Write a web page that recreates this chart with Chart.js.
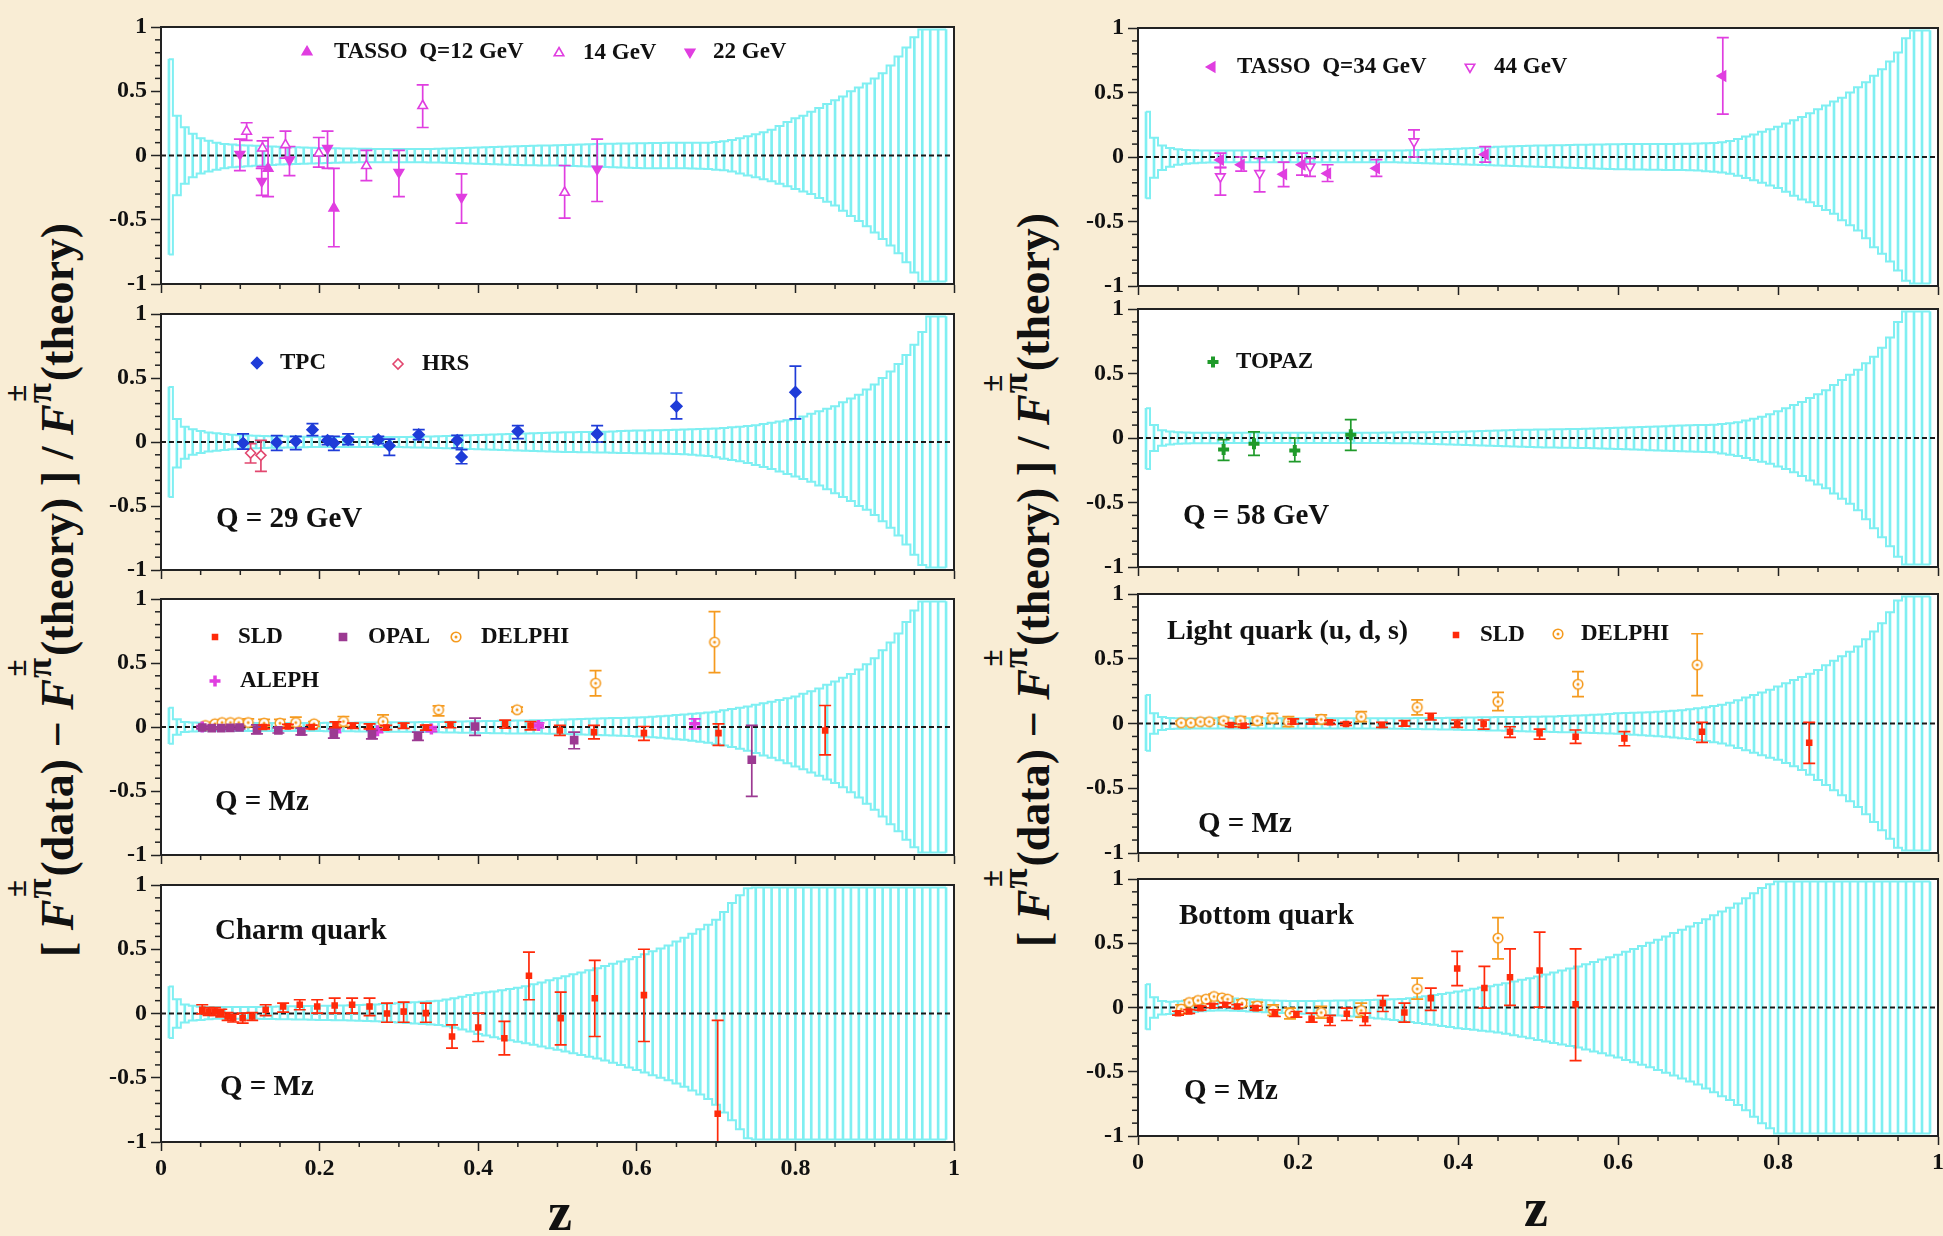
<!DOCTYPE html>
<html><head><meta charset="utf-8">
<script src="https://cdn.jsdelivr.net/npm/chart.js@4.4.0/dist/chart.umd.min.js"></script>
<style>
html,body{margin:0;padding:0;width:1943px;height:1236px;overflow:hidden;background:#f9edd5;}
canvas{position:absolute;}
.yt{position:absolute;font-family:"Liberation Serif","Times New Roman",serif;font-weight:bold;font-size:46px;white-space:nowrap;color:#111;transform:translate(-50%,-50%) rotate(-90deg);line-height:1;}
.yt i{font-style:italic;}
.sp{display:inline-flex;flex-direction:column;align-items:center;font-size:0.8em;line-height:0.68;vertical-align:1.3em;margin:0 0.05em 0 0.03em;}
.pm{font-size:0.85em;}
.zl{position:absolute;font-family:"Liberation Serif","Times New Roman",serif;font-weight:bold;font-size:54px;color:#111;transform:translate(-50%,-50%);}
</style></head><body>
<div class="yt" style="left:43px;top:590px">[ <i>F</i><span class="sp"><span class="pm">±</span><span>π</span></span>(data) − <i>F</i><span class="sp"><span class="pm">±</span><span>π</span></span>(theory) ] / <i>F</i><span class="sp"><span class="pm">±</span><span>π</span></span>(theory)</div>
<div class="yt" style="left:1019px;top:580px">[ <i>F</i><span class="sp"><span class="pm">±</span><span>π</span></span>(data) − <i>F</i><span class="sp"><span class="pm">±</span><span>π</span></span>(theory) ] / <i>F</i><span class="sp"><span class="pm">±</span><span>π</span></span>(theory)</div>
<div class="zl" style="left:560px;top:1212px">z</div>
<div class="zl" style="left:1536px;top:1208px">z</div>
<script>
// ---------- z grid of the theory-uncertainty band ----------
const zGrid = [
0.01,0.02,0.03,0.04,0.05,0.06,0.07,0.08,0.09,0.10,
0.11,0.12,0.13,0.14,0.15,0.16,0.17,0.18,0.19,0.20,
0.21,0.22,0.23,0.24,0.25,0.26,0.27,0.28,0.29,0.30,
0.31,0.32,0.33,0.34,0.35,0.36,0.37,0.38,0.39,0.40,
0.41,0.42,0.43,0.44,0.45,0.46,0.47,0.48,0.49,0.50,
0.51,0.52,0.53,0.54,0.55,0.56,0.57,0.58,0.59,0.60,
0.61,0.62,0.63,0.64,0.65,0.66,0.67,0.68,0.69,0.70,
0.71,0.72,0.73,0.74,0.75,0.76,0.77,0.78,0.79,0.80,
0.81,0.82,0.83,0.84,0.85,0.86,0.87,0.88,0.89,0.90,
0.91,0.92,0.93,0.94,0.95,0.96,0.97,0.98,0.99];

// ---------- band upper / lower edges per panel ----------
const bandA_hi = [
0.75,0.31,0.22,0.17,0.135,0.115,0.10,0.09,0.085,0.08,
0.078,0.075,0.072,0.07,0.068,0.066,0.064,0.062,0.06,0.058,
0.057,0.056,0.055,0.054,0.053,0.052,0.051,0.05,0.05,0.05,
0.05,0.05,0.05,0.05,0.052,0.054,0.056,0.058,0.06,0.062,
0.064,0.066,0.068,0.07,0.072,0.074,0.076,0.078,0.078,0.08,
0.082,0.084,0.086,0.088,0.09,0.091,0.092,0.093,0.094,0.095,
0.096,0.097,0.098,0.099,0.10,0.10,0.10,0.10,0.10,0.105,
0.11,0.12,0.135,0.15,0.165,0.18,0.20,0.23,0.26,0.29,
0.31,0.34,0.37,0.40,0.43,0.46,0.50,0.53,0.56,0.60,
0.64,0.70,0.77,0.84,0.92,0.98,0.98,0.98,0.98];
const bandA_lo = [
-0.77,-0.31,-0.22,-0.17,-0.14,-0.125,-0.11,-0.10,-0.092,-0.088,
-0.084,-0.08,-0.077,-0.074,-0.071,-0.068,-0.066,-0.064,-0.062,-0.06,
-0.058,-0.056,-0.055,-0.054,-0.053,-0.052,-0.052,-0.052,-0.052,-0.052,
-0.052,-0.052,-0.053,-0.054,-0.055,-0.056,-0.058,-0.06,-0.062,-0.064,
-0.066,-0.068,-0.07,-0.072,-0.074,-0.075,-0.076,-0.077,-0.078,-0.078,
-0.08,-0.082,-0.084,-0.086,-0.088,-0.09,-0.092,-0.094,-0.096,-0.098,
-0.10,-0.10,-0.10,-0.10,-0.10,-0.10,-0.102,-0.104,-0.106,-0.11,
-0.115,-0.125,-0.14,-0.155,-0.17,-0.185,-0.20,-0.22,-0.24,-0.26,
-0.28,-0.30,-0.33,-0.36,-0.39,-0.43,-0.47,-0.51,-0.55,-0.60,
-0.65,-0.70,-0.76,-0.83,-0.91,-0.98,-0.98,-0.98,-0.98];
const bandB_hi = [
0.35,0.15,0.09,0.07,0.06,0.055,0.052,0.05,0.05,0.05,
0.05,0.05,0.05,0.05,0.05,0.05,0.05,0.05,0.05,0.05,
0.05,0.05,0.05,0.05,0.05,0.05,0.05,0.05,0.05,0.05,
0.05,0.05,0.05,0.052,0.054,0.056,0.058,0.06,0.062,0.064,
0.067,0.07,0.073,0.076,0.079,0.082,0.084,0.086,0.088,0.089,
0.09,0.091,0.092,0.093,0.094,0.095,0.096,0.097,0.098,0.099,
0.10,0.10,0.10,0.10,0.10,0.10,0.101,0.102,0.103,0.104,
0.106,0.108,0.115,0.125,0.14,0.158,0.175,0.195,0.215,0.235,
0.26,0.285,0.31,0.34,0.37,0.40,0.43,0.46,0.50,0.54,
0.58,0.63,0.68,0.74,0.81,0.92,0.98,0.98,0.98];
const bandB_lo = [
-0.32,-0.16,-0.10,-0.075,-0.06,-0.052,-0.048,-0.045,-0.043,-0.042,
-0.04,-0.04,-0.04,-0.04,-0.04,-0.04,-0.04,-0.04,-0.04,-0.04,
-0.04,-0.04,-0.04,-0.04,-0.04,-0.04,-0.04,-0.04,-0.04,-0.04,
-0.04,-0.04,-0.042,-0.044,-0.046,-0.048,-0.05,-0.052,-0.054,-0.056,
-0.058,-0.06,-0.062,-0.064,-0.066,-0.068,-0.07,-0.072,-0.074,-0.076,
-0.078,-0.08,-0.082,-0.084,-0.086,-0.088,-0.09,-0.092,-0.093,-0.094,
-0.095,-0.096,-0.097,-0.098,-0.099,-0.10,-0.10,-0.10,-0.102,-0.105,
-0.11,-0.114,-0.12,-0.13,-0.145,-0.162,-0.18,-0.20,-0.22,-0.24,
-0.27,-0.30,-0.33,-0.35,-0.38,-0.41,-0.44,-0.49,-0.53,-0.57,
-0.63,-0.70,-0.75,-0.81,-0.88,-0.96,-0.98,-0.98,-0.98];
const bandC_hi = [
0.43,0.18,0.12,0.10,0.085,0.075,0.068,0.062,0.056,0.052,
0.05,0.048,0.046,0.045,0.044,0.043,0.042,0.041,0.04,0.04,
0.04,0.04,0.04,0.04,0.04,0.04,0.04,0.04,0.04,0.04,
0.04,0.041,0.042,0.043,0.045,0.047,0.049,0.051,0.053,0.055,
0.057,0.059,0.061,0.063,0.065,0.067,0.069,0.071,0.073,0.075,
0.076,0.077,0.078,0.079,0.08,0.081,0.083,0.085,0.087,0.089,
0.09,0.091,0.092,0.093,0.095,0.097,0.099,0.101,0.103,0.105,
0.11,0.115,0.12,0.125,0.13,0.14,0.15,0.16,0.17,0.18,
0.20,0.22,0.24,0.26,0.28,0.31,0.34,0.37,0.41,0.45,
0.50,0.55,0.61,0.68,0.76,0.86,0.98,0.98,0.98];
const bandC_lo = [
-0.43,-0.20,-0.13,-0.10,-0.085,-0.075,-0.068,-0.062,-0.056,-0.052,
-0.05,-0.048,-0.046,-0.045,-0.044,-0.043,-0.042,-0.041,-0.04,-0.04,
-0.04,-0.04,-0.04,-0.04,-0.04,-0.04,-0.04,-0.04,-0.04,-0.04,
-0.041,-0.042,-0.043,-0.045,-0.047,-0.049,-0.051,-0.053,-0.055,-0.057,
-0.059,-0.061,-0.063,-0.065,-0.067,-0.069,-0.071,-0.073,-0.075,-0.077,
-0.078,-0.079,-0.08,-0.081,-0.082,-0.083,-0.084,-0.085,-0.086,-0.087,
-0.088,-0.089,-0.09,-0.092,-0.094,-0.096,-0.10,-0.105,-0.11,-0.12,
-0.13,-0.14,-0.15,-0.165,-0.18,-0.195,-0.21,-0.23,-0.25,-0.27,
-0.29,-0.31,-0.34,-0.37,-0.40,-0.43,-0.46,-0.50,-0.53,-0.57,
-0.62,-0.67,-0.73,-0.80,-0.88,-0.96,-0.98,-0.98,-0.98];
const bandD_hi = [
0.23,0.10,0.06,0.05,0.045,0.042,0.04,0.04,0.04,0.04,
0.04,0.04,0.04,0.04,0.04,0.04,0.04,0.04,0.04,0.04,
0.04,0.04,0.04,0.04,0.04,0.04,0.04,0.04,0.04,0.04,
0.042,0.043,0.044,0.044,0.045,0.045,0.046,0.046,0.047,0.048,
0.05,0.052,0.054,0.056,0.058,0.06,0.062,0.063,0.064,0.065,
0.066,0.067,0.068,0.069,0.07,0.071,0.073,0.075,0.077,0.08,
0.082,0.084,0.086,0.088,0.09,0.092,0.094,0.096,0.098,0.10,
0.10,0.103,0.108,0.115,0.123,0.135,0.15,0.165,0.185,0.207,
0.23,0.255,0.28,0.31,0.34,0.37,0.41,0.45,0.49,0.53,
0.58,0.63,0.70,0.78,0.90,0.98,0.98,0.98,0.98];
const bandD_lo = [
-0.24,-0.10,-0.06,-0.05,-0.045,-0.042,-0.04,-0.04,-0.04,-0.04,
-0.038,-0.038,-0.038,-0.038,-0.038,-0.038,-0.038,-0.038,-0.038,-0.038,
-0.038,-0.038,-0.038,-0.038,-0.038,-0.038,-0.038,-0.038,-0.038,-0.038,
-0.039,-0.04,-0.04,-0.041,-0.042,-0.044,-0.046,-0.048,-0.05,-0.052,
-0.054,-0.056,-0.058,-0.06,-0.062,-0.064,-0.066,-0.068,-0.07,-0.072,
-0.073,-0.074,-0.075,-0.076,-0.077,-0.078,-0.08,-0.082,-0.084,-0.086,
-0.088,-0.09,-0.092,-0.094,-0.096,-0.098,-0.10,-0.102,-0.104,-0.106,
-0.108,-0.11,-0.12,-0.13,-0.14,-0.155,-0.17,-0.185,-0.20,-0.22,
-0.24,-0.265,-0.295,-0.33,-0.36,-0.39,-0.43,-0.47,-0.51,-0.56,
-0.63,-0.70,-0.77,-0.84,-0.92,-0.98,-0.98,-0.98,-0.98];
const bandE_hi = [
0.15,0.06,0.04,0.035,0.033,0.032,0.032,0.032,0.032,0.032,
0.032,0.032,0.032,0.032,0.032,0.032,0.032,0.032,0.032,0.032,
0.033,0.033,0.034,0.034,0.035,0.035,0.036,0.036,0.037,0.037,
0.038,0.038,0.039,0.039,0.04,0.041,0.042,0.043,0.044,0.045,
0.046,0.047,0.048,0.049,0.05,0.051,0.052,0.053,0.055,0.056,
0.058,0.06,0.062,0.064,0.066,0.068,0.07,0.071,0.072,0.074,
0.077,0.08,0.084,0.088,0.093,0.098,0.103,0.108,0.114,0.12,
0.13,0.14,0.15,0.16,0.173,0.185,0.197,0.21,0.224,0.238,
0.26,0.28,0.30,0.33,0.355,0.385,0.415,0.45,0.49,0.537,
0.60,0.66,0.73,0.82,0.91,0.98,0.98,0.98,0.98];
const bandE_lo = [
-0.13,-0.06,-0.04,-0.035,-0.033,-0.032,-0.032,-0.032,-0.032,-0.032,
-0.032,-0.032,-0.032,-0.032,-0.032,-0.032,-0.032,-0.032,-0.032,-0.032,
-0.033,-0.033,-0.034,-0.034,-0.035,-0.035,-0.036,-0.036,-0.037,-0.037,
-0.038,-0.038,-0.039,-0.04,-0.041,-0.042,-0.043,-0.044,-0.045,-0.046,
-0.047,-0.048,-0.049,-0.05,-0.05,-0.05,-0.051,-0.051,-0.052,-0.053,
-0.055,-0.057,-0.059,-0.061,-0.063,-0.065,-0.067,-0.069,-0.071,-0.074,
-0.077,-0.08,-0.084,-0.089,-0.095,-0.10,-0.107,-0.115,-0.124,-0.134,
-0.145,-0.157,-0.17,-0.186,-0.204,-0.222,-0.24,-0.26,-0.284,-0.308,
-0.33,-0.355,-0.38,-0.41,-0.438,-0.47,-0.51,-0.55,-0.60,-0.646,
-0.70,-0.76,-0.815,-0.88,-0.94,-0.98,-0.98,-0.98,-0.98];
const bandF_hi = [
0.22,0.08,0.05,0.042,0.04,0.04,0.04,0.04,0.04,0.04,
0.04,0.04,0.04,0.04,0.04,0.04,0.04,0.04,0.04,0.04,
0.04,0.04,0.04,0.04,0.04,0.04,0.04,0.04,0.04,0.04,
0.04,0.04,0.041,0.041,0.042,0.042,0.043,0.043,0.044,0.045,
0.046,0.047,0.048,0.049,0.05,0.05,0.051,0.051,0.052,0.053,
0.054,0.055,0.057,0.059,0.061,0.064,0.067,0.07,0.074,0.079,
0.081,0.083,0.085,0.087,0.09,0.094,0.098,0.103,0.11,0.117,
0.125,0.135,0.145,0.16,0.18,0.20,0.22,0.24,0.26,0.285,
0.31,0.335,0.36,0.385,0.414,0.45,0.485,0.52,0.555,0.595,
0.65,0.71,0.775,0.86,0.95,0.98,0.98,0.98,0.98];
const bandF_lo = [
-0.21,-0.08,-0.05,-0.042,-0.04,-0.04,-0.038,-0.038,-0.038,-0.038,
-0.038,-0.038,-0.038,-0.038,-0.038,-0.038,-0.038,-0.038,-0.038,-0.038,
-0.038,-0.038,-0.038,-0.038,-0.038,-0.038,-0.038,-0.038,-0.038,-0.038,
-0.039,-0.04,-0.041,-0.042,-0.043,-0.044,-0.045,-0.046,-0.047,-0.048,
-0.05,-0.051,-0.052,-0.054,-0.055,-0.056,-0.058,-0.06,-0.061,-0.063,
-0.064,-0.065,-0.067,-0.068,-0.07,-0.072,-0.074,-0.076,-0.078,-0.08,
-0.083,-0.086,-0.09,-0.094,-0.098,-0.103,-0.108,-0.114,-0.12,-0.128,
-0.136,-0.145,-0.155,-0.17,-0.19,-0.207,-0.225,-0.245,-0.265,-0.28,
-0.305,-0.33,-0.36,-0.395,-0.437,-0.475,-0.515,-0.555,-0.60,-0.644,
-0.70,-0.76,-0.825,-0.89,-0.96,-0.98,-0.98,-0.98,-0.98];
const bandG_hi = [
0.21,0.11,0.07,0.06,0.052,0.05,0.05,0.05,0.05,0.05,
0.05,0.051,0.052,0.053,0.055,0.056,0.057,0.058,0.059,0.06,
0.061,0.062,0.063,0.064,0.066,0.068,0.07,0.073,0.076,0.08,
0.084,0.088,0.092,0.096,0.10,0.108,0.118,0.13,0.143,0.158,
0.165,0.172,0.18,0.19,0.20,0.213,0.227,0.242,0.258,0.275,
0.29,0.305,0.32,0.336,0.353,0.37,0.387,0.404,0.422,0.44,
0.462,0.484,0.506,0.53,0.56,0.59,0.62,0.655,0.69,0.73,
0.79,0.86,0.92,0.975,0.98,0.98,0.98,0.98,0.98,0.98,
0.98,0.98,0.98,0.98,0.98,0.98,0.98,0.98,0.98,0.98,
0.98,0.98,0.98,0.98,0.98,0.98,0.98,0.98,0.98];
const bandG_lo = [
-0.19,-0.11,-0.07,-0.055,-0.05,-0.045,-0.04,-0.04,-0.04,-0.04,
-0.04,-0.041,-0.042,-0.043,-0.044,-0.045,-0.046,-0.047,-0.048,-0.05,
-0.051,-0.052,-0.053,-0.054,-0.056,-0.058,-0.06,-0.063,-0.066,-0.07,
-0.074,-0.078,-0.082,-0.086,-0.09,-0.10,-0.11,-0.125,-0.14,-0.16,
-0.172,-0.184,-0.196,-0.208,-0.22,-0.232,-0.244,-0.257,-0.27,-0.283,
-0.296,-0.31,-0.323,-0.336,-0.35,-0.366,-0.383,-0.40,-0.42,-0.44,
-0.46,-0.48,-0.50,-0.52,-0.545,-0.57,-0.60,-0.63,-0.665,-0.71,
-0.77,-0.83,-0.90,-0.97,-0.98,-0.98,-0.98,-0.98,-0.98,-0.98,
-0.98,-0.98,-0.98,-0.98,-0.98,-0.98,-0.98,-0.98,-0.98,-0.98,
-0.98,-0.98,-0.98,-0.98,-0.98,-0.98,-0.98,-0.98,-0.98];
const bandH_hi = [
0.18,0.08,0.05,0.045,0.048,0.053,0.06,0.066,0.07,0.073,
0.072,0.07,0.067,0.064,0.06,0.057,0.054,0.052,0.05,0.05,
0.05,0.051,0.052,0.053,0.054,0.055,0.056,0.057,0.058,0.06,
0.062,0.064,0.067,0.072,0.08,0.088,0.097,0.105,0.115,0.125,
0.135,0.145,0.155,0.166,0.177,0.189,0.202,0.215,0.228,0.242,
0.257,0.272,0.287,0.303,0.32,0.337,0.355,0.373,0.391,0.41,
0.433,0.456,0.479,0.503,0.527,0.553,0.579,0.605,0.631,0.657,
0.687,0.717,0.747,0.777,0.81,0.85,0.89,0.93,0.96,0.98,
0.98,0.98,0.98,0.98,0.98,0.98,0.98,0.98,0.98,0.98,
0.98,0.98,0.98,0.98,0.98,0.98,0.98,0.98,0.98];
const bandH_lo = [
-0.17,-0.08,-0.055,-0.05,-0.045,-0.04,-0.035,-0.03,-0.026,-0.023,
-0.024,-0.026,-0.028,-0.031,-0.034,-0.037,-0.04,-0.042,-0.044,-0.046,
-0.049,-0.052,-0.055,-0.058,-0.062,-0.066,-0.07,-0.075,-0.08,-0.086,
-0.092,-0.098,-0.105,-0.112,-0.12,-0.128,-0.135,-0.143,-0.152,-0.161,
-0.167,-0.173,-0.18,-0.187,-0.195,-0.205,-0.216,-0.227,-0.239,-0.252,
-0.264,-0.276,-0.288,-0.30,-0.312,-0.327,-0.342,-0.357,-0.373,-0.39,
-0.408,-0.426,-0.445,-0.465,-0.486,-0.508,-0.53,-0.553,-0.576,-0.60,
-0.63,-0.66,-0.69,-0.72,-0.758,-0.80,-0.85,-0.90,-0.94,-0.98,
-0.98,-0.98,-0.98,-0.98,-0.98,-0.98,-0.98,-0.98,-0.98,-0.98,
-0.98,-0.98,-0.98,-0.98,-0.98,-0.98,-0.98,-0.98,-0.98];

// ---------- data points: [z, value, errLow, errHigh] ----------
const tasso12 = [[0.135,-0.10,-0.32,0.14],[0.218,-0.41,-0.71,-0.10]];
const tasso14 = [[0.108,0.187,0.117,0.255],[0.128,0.057,-0.086,0.114],[0.157,0.083,-0.02,0.19],[0.199,0.018,-0.09,0.14],[0.259,-0.08,-0.195,0.04],[0.33,0.387,0.218,0.55],[0.509,-0.288,-0.488,-0.078]];
const tasso22 = [[0.0995,0.01,-0.117,0.127],[0.127,-0.20,-0.31,-0.10],[0.162,-0.034,-0.156,0.07],[0.21,0.057,-0.10,0.19],[0.30,-0.13,-0.32,0.04],[0.379,-0.325,-0.527,-0.143],[0.55,-0.106,-0.358,0.127]];
const tasso34 = [[0.103,-0.023,-0.08,0.03],[0.129,-0.06,-0.11,0.0],[0.182,-0.134,-0.23,-0.04],[0.205,-0.06,-0.14,0.03],[0.237,-0.127,-0.19,-0.06],[0.298,-0.088,-0.15,-0.02],[0.434,0.02,-0.04,0.08],[0.731,0.628,0.333,0.925]];
const tasso44 = [[0.103,-0.152,-0.295,-0.083],[0.152,-0.127,-0.27,-0.01],[0.215,-0.075,-0.15,-0.01],[0.345,0.119,0.0,0.21]];
const tpc = [[0.1035,-0.008,-0.055,0.063],[0.146,-0.003,-0.065,0.05],[0.17,0.005,-0.06,0.044],[0.191,0.096,0.05,0.143],[0.21,0.013,-0.02,0.044],[0.218,-0.008,-0.065,0.044],[0.236,0.018,-0.02,0.063],[0.274,0.018,-0.013,0.044],[0.288,-0.029,-0.104,0.023],[0.325,0.057,0.018,0.096],[0.3735,0.013,-0.047,0.052],[0.379,-0.117,-0.17,-0.06],[0.45,0.083,0.026,0.128],[0.55,0.063,0.0,0.128],[0.65,0.279,0.18,0.383],[0.80,0.389,0.18,0.592]];
const hrs = [[0.113,-0.086,-0.164,-0.013],[0.126,-0.104,-0.23,0.013]];
const topaz = [[0.107,-0.09,-0.173,-0.013],[0.145,-0.044,-0.134,0.047],[0.196,-0.096,-0.183,0.0],[0.266,0.026,-0.096,0.142]];
const sldMz = [[0.13,0.0,-0.015,0.015],[0.16,0.005,-0.01,0.02],[0.19,0.0,-0.015,0.015],[0.22,0.02,-0.005,0.04],[0.242,0.01,-0.01,0.03],[0.263,0.005,-0.015,0.025],[0.284,-0.005,-0.02,0.012],[0.306,0.01,-0.01,0.03],[0.334,-0.005,-0.025,0.015],[0.365,0.017,-0.006,0.038],[0.434,0.025,-0.009,0.053],[0.466,0.012,-0.022,0.043],[0.503,-0.027,-0.066,0.012],[0.546,-0.04,-0.092,0.012],[0.609,-0.048,-0.105,0.004],[0.703,-0.048,-0.144,0.025],[0.8375,-0.027,-0.217,0.168]];
const opalMz = [[0.052,-0.004,-0.014,0.006],[0.064,-0.009,-0.019,0.001],[0.076,-0.009,-0.019,0.001],[0.0875,-0.007,-0.017,0.003],[0.099,-0.004,-0.014,0.006],[0.121,-0.022,-0.053,0.017],[0.148,-0.027,-0.047,-0.007],[0.177,-0.035,-0.061,-0.009],[0.218,-0.053,-0.087,-0.014],[0.266,-0.061,-0.092,-0.027],[0.324,-0.074,-0.105,-0.04],[0.396,0.004,-0.066,0.069],[0.521,-0.103,-0.17,-0.04],[0.745,-0.256,-0.542,0.012]];
const delphiMz = [[0.056,0.012,0.0,0.024],[0.068,0.025,0.013,0.037],[0.077,0.035,0.023,0.047],[0.0875,0.035,0.023,0.047],[0.098,0.035,0.023,0.047],[0.11,0.035,0.004,0.064],[0.13,0.03,0.004,0.06],[0.15,0.03,0.004,0.06],[0.17,0.035,0.004,0.077],[0.193,0.025,0.004,0.043],[0.23,0.043,0.004,0.082],[0.28,0.043,0.004,0.095],[0.35,0.134,0.087,0.165],[0.449,0.135,0.12,0.155],[0.548,0.342,0.243,0.441],[0.698,0.663,0.425,0.902]];
const alephMz = [[0.052,0.0,-0.01,0.01],[0.22,-0.03,-0.045,-0.015],[0.273,-0.03,-0.045,-0.015],[0.341,-0.016,-0.036,0.004],[0.476,0.012,-0.008,0.032],[0.673,0.025,-0.014,0.064]];
const sldLight = [[0.116,-0.012,-0.025,0.0],[0.132,-0.017,-0.03,-0.004],[0.194,0.014,-0.004,0.035],[0.217,0.014,-0.004,0.03],[0.24,0.009,-0.006,0.024],[0.26,-0.004,-0.015,0.008],[0.305,-0.012,-0.03,0.009],[0.333,0.001,-0.02,0.022],[0.366,0.053,0.027,0.079],[0.399,-0.004,-0.03,0.027],[0.432,-0.004,-0.043,0.027],[0.465,-0.063,-0.107,-0.025],[0.502,-0.076,-0.12,-0.043],[0.547,-0.102,-0.154,-0.05],[0.608,-0.115,-0.172,-0.063],[0.705,-0.063,-0.146,0.009],[0.839,-0.148,-0.308,0.009]];
const delphiLight = [[0.054,0.006,-0.006,0.018],[0.066,0.006,-0.006,0.018],[0.078,0.014,0.002,0.026],[0.089,0.014,0.002,0.026],[0.107,0.022,-0.004,0.048],[0.128,0.022,-0.024,0.053],[0.149,0.022,-0.01,0.05],[0.168,0.04,0.006,0.079],[0.188,0.014,-0.024,0.053],[0.229,0.032,-0.004,0.066],[0.279,0.053,0.014,0.092],[0.349,0.125,0.066,0.182],[0.45,0.169,0.1,0.241],[0.55,0.303,0.207,0.401],[0.699,0.453,0.215,0.693]];
const sldCharm = [[0.052,0.029,-0.003,0.068],[0.06,0.016,-0.014,0.046],[0.068,0.016,-0.014,0.046],[0.076,0.003,-0.027,0.033],[0.084,-0.023,-0.053,0.007],[0.091,-0.036,-0.066,-0.006],[0.103,-0.036,-0.075,0.003],[0.115,-0.023,-0.053,0.007],[0.132,0.029,-0.016,0.068],[0.154,0.055,0.01,0.081],[0.175,0.068,0.029,0.107],[0.197,0.055,0.003,0.107],[0.219,0.062,0.003,0.119],[0.241,0.068,0.003,0.119],[0.263,0.055,-0.016,0.119],[0.285,0.0,-0.068,0.081],[0.306,0.016,-0.068,0.088],[0.334,0.003,-0.068,0.081],[0.367,-0.179,-0.27,-0.088],[0.40,-0.109,-0.218,0.003],[0.433,-0.192,-0.322,-0.062],[0.464,0.294,0.107,0.478],[0.504,-0.036,-0.244,0.166],[0.547,0.119,-0.179,0.413],[0.609,0.143,-0.218,0.50],[0.702,-0.78,-1.05,-0.053]];
const sldBottom = [[0.05,-0.044,-0.059,-0.029],[0.064,-0.031,-0.046,-0.016],[0.078,-0.005,-0.02,0.01],[0.093,0.013,-0.002,0.028],[0.109,0.021,0.006,0.036],[0.124,0.008,-0.007,0.023],[0.147,-0.005,-0.02,0.01],[0.171,-0.049,-0.07,-0.018],[0.198,-0.057,-0.075,-0.031],[0.217,-0.088,-0.114,-0.044],[0.24,-0.096,-0.14,-0.062],[0.261,-0.049,-0.101,-0.005],[0.284,-0.091,-0.14,-0.044],[0.306,0.034,-0.031,0.093],[0.333,-0.039,-0.114,0.034],[0.366,0.073,-0.023,0.151],[0.399,0.304,0.171,0.436],[0.433,0.151,-0.005,0.32],[0.465,0.236,0.016,0.457],[0.502,0.288,0.003,0.587],[0.547,0.026,-0.413,0.457]];
const delphiBottom = [[0.054,-0.013,-0.049,0.021],[0.064,0.039,0.02,0.058],[0.075,0.055,0.036,0.074],[0.085,0.065,0.046,0.084],[0.095,0.086,0.067,0.105],[0.105,0.075,0.056,0.094],[0.112,0.065,0.046,0.084],[0.13,0.034,0.008,0.06],[0.149,0.013,-0.018,0.042],[0.169,-0.018,-0.062,0.021],[0.19,-0.044,-0.088,-0.005],[0.229,-0.039,-0.083,0.008],[0.279,-0.023,-0.075,0.034],[0.349,0.145,0.065,0.228],[0.45,0.54,0.379,0.70]];

// ---------- styles ----------
const FONT = '"Liberation Serif", "Times New Roman", serif';
const MAG='#e03ee0', BLUE='#1f3cd8', CRIMSON='#e2476f', GREEN='#1f9a2a', RED='#ff2a0a', PURPLE='#9c3a92', ORANGE='#f59a1e', CYAN='#7feff2';
function mkDelphi(){const c=document.createElement('canvas');c.width=14;c.height=14;const g=c.getContext('2d');g.fillStyle='#fff';g.strokeStyle=ORANGE;g.lineWidth=1.6;g.beginPath();g.arc(7,7,4.8,0,Math.PI*2);g.fill();g.stroke();g.fillStyle=ORANGE;g.beginPath();g.arc(7,7,1.5,0,Math.PI*2);g.fill();return c;}
const delphiImg = mkDelphi();
const STY = {
  tasso12:{color:MAG,style:'triangle',rot:0,fill:true,r:5.5,label:'TASSO Q=12 GeV'},
  tasso14:{color:MAG,style:'triangle',rot:0,fill:false,r:5.5,label:'14 GeV'},
  tasso22:{color:MAG,style:'triangle',rot:180,fill:true,r:5.5,label:'22 GeV'},
  tasso34:{color:MAG,style:'triangle',rot:-90,fill:true,r:5.5,label:'TASSO Q=34 GeV'},
  tasso44:{color:MAG,style:'triangle',rot:180,fill:false,r:5.5,label:'44 GeV'},
  tpc:{color:BLUE,style:'rectRot',fill:true,r:5.5,label:'TPC'},
  hrs:{color:CRIMSON,style:'rectRot',fill:false,r:5,label:'HRS'},
  topaz:{color:GREEN,style:'cross',fill:true,r:5.5,bw:4,label:'TOPAZ'},
  sld:{color:RED,style:'rect',fill:true,r:3.5,label:'SLD'},
  opal:{color:PURPLE,style:'rect',fill:true,r:5,label:'OPAL'},
  delphi:{color:ORANGE,style:delphiImg,fill:false,r:5,label:'DELPHI'},
  aleph:{color:MAG,style:'cross',fill:true,r:5.5,bw:3.5,label:'ALEPH'}
};

const PANELS = [
 {left:161,top:27,w:793,h:257,bottom:false,hi:bandA_hi,lo:bandA_lo,
  series:[['tasso12',tasso12],['tasso14',tasso14],['tasso22',tasso22]],
  legend:[['tasso12',146,25,173,'TASSO  Q=12 GeV'],['tasso14',398,26,422,'14 GeV'],['tasso22',529,25,552,'22 GeV']],notes:[]},
 {left:1138,top:28,w:800,h:258,bottom:false,hi:bandB_hi,lo:bandB_lo,
  series:[['tasso34',tasso34],['tasso44',tasso44]],
  legend:[['tasso34',74,39,99,'TASSO  Q=34 GeV'],['tasso44',332,39,356,'44 GeV']],notes:[]},
 {left:161,top:314,w:793,h:256,bottom:false,hi:bandC_hi,lo:bandC_lo,
  series:[['tpc',tpc],['hrs',hrs]],
  legend:[['tpc',96,49,119,'TPC'],['hrs',237,50,261,'HRS']],notes:[['Q = 29 GeV',55,206,29]]},
 {left:1138,top:309,w:800,h:258,bottom:false,hi:bandD_hi,lo:bandD_lo,
  series:[['topaz',topaz]],
  legend:[['topaz',75,53,98,'TOPAZ']],notes:[['Q = 58 GeV',45,208,29]]},
 {left:161,top:599,w:793,h:256,bottom:false,hi:bandE_hi,lo:bandE_lo,
  series:[['sld',sldMz],['opal',opalMz],['aleph',alephMz],['delphi',delphiMz]],
  legend:[['sld',54,38,77,'SLD'],['opal',182,38,207,'OPAL'],['delphi',295,38,320,'DELPHI'],['aleph',54,82,79,'ALEPH']],notes:[['Q = Mz',54,204,29]]},
 {left:1138,top:594,w:800,h:259,bottom:false,hi:bandF_hi,lo:bandF_lo,
  series:[['sld',sldLight],['delphi',delphiLight]],
  legend:[['sld',318,41,342,'SLD'],['delphi',420,40,443,'DELPHI']],notes:[['Light quark (u, d, s)',29,38,28],['Q = Mz',60,231,29]]},
 {left:161,top:885,w:793,h:257,bottom:true,hi:bandG_hi,lo:bandG_lo,
  series:[['sld',sldCharm]],legend:[],notes:[['Charm quark',54,47,29],['Q = Mz',59,203,29]]},
 {left:1138,top:879,w:800,h:257,bottom:true,hi:bandH_hi,lo:bandH_lo,
  series:[['sld',sldBottom],['delphi',delphiBottom]],legend:[],notes:[['Bottom quark',41,38,29],['Q = Mz',46,213,29]]}
];

const YW=80, PT=18, PR=14;

function drawMarker(ctx, st, x, y){
  ctx.save();
  ctx.fillStyle = st.fill ? st.color : '#ffffff';
  ctx.strokeStyle = st.color;
  ctx.lineWidth = st.bw || 1.6;
  Chart.helpers.drawPoint(ctx, {pointStyle:st.style, rotation:st.rot||0, radius:st.r, borderWidth:st.bw||1.6}, x, y);
  ctx.restore();
}

const errorBars = {
  id:'errorBars',
  beforeDatasetDraw(chart, args){
    const ds = chart.data.datasets[args.index];
    if(!ds.errColor) return;
    const {ctx, chartArea:a} = chart, xs = chart.scales.x, ys = chart.scales.y;
    ctx.save();
    ctx.beginPath(); ctx.rect(a.left, a.top, a.right-a.left, a.bottom-a.top); ctx.clip();
    ctx.strokeStyle = ds.errColor; ctx.lineWidth = 1.7;
    const cap = 6;
    ds.data.forEach(p=>{
      const x = xs.getPixelForValue(p.x), y1 = ys.getPixelForValue(p.lo), y2 = ys.getPixelForValue(p.hi);
      ctx.beginPath();
      ctx.moveTo(x,y1); ctx.lineTo(x,y2);
      ctx.moveTo(x-cap,y1); ctx.lineTo(x+cap,y1);
      ctx.moveTo(x-cap,y2); ctx.lineTo(x+cap,y2);
      ctx.stroke();
    });
    ctx.restore();
  }
};

const frame = {
  id:'frame',
  beforeDraw(chart){
    const {ctx, chartArea:a} = chart;
    ctx.save(); ctx.fillStyle='#ffffff'; ctx.fillRect(a.left,a.top,a.right-a.left,a.bottom-a.top); ctx.restore();
  },
  afterDraw(chart){
    const {ctx, chartArea:a} = chart, xs = chart.scales.x, ys = chart.scales.y;
    const P = chart.options.plugins.frame;
    ctx.save();
    ctx.strokeStyle='#222'; ctx.lineWidth=1.5;
    for(let k=-10;k<=10;k++){ if(k%5===0) continue; const y=ys.getPixelForValue(k/10); ctx.beginPath(); ctx.moveTo(a.left-6,y); ctx.lineTo(a.left,y); ctx.stroke(); }
    for(let k=1;k<20;k++){ if(k%4===0) continue; const x=xs.getPixelForValue(k/20); ctx.beginPath(); ctx.moveTo(x,a.bottom); ctx.lineTo(x,a.bottom+5); ctx.stroke(); }
    ctx.lineWidth=2;
    ctx.strokeRect(a.left,a.top,a.right-a.left,a.bottom-a.top);
    ctx.fillStyle='#111'; ctx.textBaseline='middle'; ctx.textAlign='left';
    (P.legend||[]).forEach(([key,mx,my,tx,text])=>{
      drawMarker(ctx, STY[key], a.left+mx, a.top+my);
      ctx.fillStyle='#111';
      ctx.font='bold 23px '+FONT;
      ctx.fillText(text, a.left+tx, a.top+my);
    });
    (P.notes||[]).forEach(([text,nx,ny,size])=>{
      ctx.fillStyle='#111';
      ctx.font='bold '+size+'px '+FONT;
      ctx.fillText(text, a.left+nx, a.top+ny);
    });
    ctx.restore();
  }
};

function fmt(v){ const r=Math.round(v*10)/10; return String(r); }

PANELS.forEach((P)=>{
  const XH = P.bottom ? 64 : 14;
  const cv = document.createElement('canvas');
  const W = YW + P.w + PR, H = PT + P.h + XH;
  cv.width=W; cv.height=H;
  cv.style.left=(P.left-YW)+'px'; cv.style.top=(P.top-PT)+'px';
  cv.style.width=W+'px'; cv.style.height=H+'px';
  document.body.appendChild(cv);

  const datasets = [];
  P.series.forEach(([key,arr])=>{
    const st = STY[key];
    datasets.push({type:'line', label:st.label, data:arr.map(d=>({x:d[0],y:d[1],lo:d[2],hi:d[3]})),
      showLine:false, pointStyle:st.style, pointRotation:st.rot||0, pointRadius:st.r, pointHoverRadius:st.r,
      pointBorderWidth:st.bw||1.6, pointBorderColor:st.color, pointBackgroundColor: st.fill?st.color:'#ffffff',
      borderColor:st.color, backgroundColor:st.color, errColor:st.color, order:1});
  });
  datasets.push({type:'line', label:'zero', data:[{x:0,y:0},{x:1,y:0}], borderColor:'#1a1a1a', borderWidth:2, borderDash:[5,3], pointRadius:0, order:5});
  datasets.push({type:'line', label:'band upper', data:zGrid.map((z,i)=>({x:z,y:P.hi[i]})), borderColor:CYAN, borderWidth:2, pointRadius:0, stepped:'middle', order:8});
  datasets.push({type:'line', label:'band lower', data:zGrid.map((z,i)=>({x:z,y:P.lo[i]})), borderColor:CYAN, borderWidth:2, pointRadius:0, stepped:'middle', order:8});
  datasets.push({type:'bar', label:'theory band', data:zGrid.map((z,i)=>({x:z,y:[P.lo[i],P.hi[i]]})), backgroundColor:CYAN, borderWidth:0, barThickness:2, grouped:false, order:10});

  const tickFont = {family:FONT, weight:'bold', size:24};
  new Chart(cv.getContext('2d'), {
    type:'line',
    data:{datasets},
    options:{
      responsive:false, animation:false, events:[],
      layout:{padding:{top:PT,right:PR,left:0,bottom:0}},
      plugins:{legend:{display:false}, tooltip:{enabled:false}, frame:{legend:P.legend, notes:P.notes}},
      scales:{
        x:{type:'linear', min:0, max:1, offset:false,
           ticks:{stepSize:0.2, autoSkip:false, maxRotation:0, minRotation:0, padding:3, font:tickFont, color:'#111',
                  callback:(v)=> P.bottom ? fmt(v) : ''},
           grid:{drawOnChartArea:false, drawTicks:true, offset:false, tickLength:9, tickWidth:1.5, tickColor:'#222'},
           border:{display:true, color:'#222', width:2},
           afterFit(s){ s.height = XH; s.paddingLeft=0; s.paddingRight=0; }},
        y:{type:'linear', min:-1, max:1,
           ticks:{stepSize:0.5, autoSkip:false, padding:4, font:tickFont, color:'#111', callback:(v)=>fmt(v)},
           grid:{drawOnChartArea:false, drawTicks:true, tickLength:10, tickWidth:1.5, tickColor:'#222'},
           border:{display:true, color:'#222', width:2},
           afterFit(s){ s.width = YW; s.paddingTop=0; s.paddingBottom=0; }}
      }
    },
    plugins:[frame, errorBars]
  });
});
</script>
</body></html>
